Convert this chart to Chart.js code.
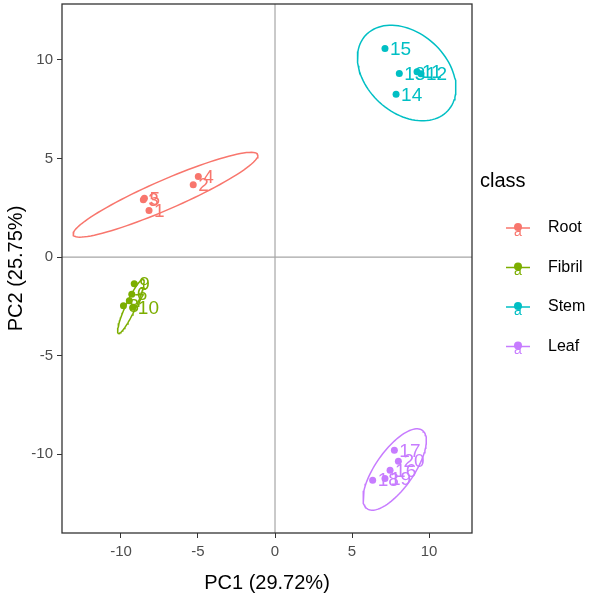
<!DOCTYPE html>
<html>
<head>
<meta charset="utf-8">
<script src="https://cdn.jsdelivr.net/npm/chart.js@4/dist/chart.umd.min.js"></script>
<style>
  body { margin: 0; background: #fff; }
</style>
</head>
<body>
<canvas id="pca" width="590" height="599"></canvas>
<script>
// PCA score plot
var classes = ['Root', 'Fibril', 'Stem', 'Leaf'];
var colors = ['#F8766D', '#7CAE00', '#00BFC4', '#C77CFF'];
var sampleIds = [[1, 2, 3, 4, 5], [6, 7, 8, 9, 10], [11, 12, 13, 14, 15], [16, 17, 18, 19, 20]];
var pc1 = [
	[-8.18, -5.31, -8.55, -4.98, -8.48],
	[-9.30, -9.46, -9.84, -9.14, -9.23],
	[9.22, 9.48, 8.07, 7.86, 7.14],
	[7.47, 7.75, 6.34, 7.14, 8.01]
];
var pc2 = [
	[2.36, 3.67, 2.91, 4.09, 2.98],
	[-1.88, -2.22, -2.47, -1.35, -2.55],
	[9.39, 9.29, 9.31, 8.25, 10.57],
	[-10.81, -9.80, -11.31, -11.23, -10.35]
];
// 95% ellipse per class: centre, major and minor half-axis vectors (PC units)
var ellipseCenter = [[-7.11, 3.16], [-9.36, -2.5], [8.55, 9.33], [7.77, -10.77]];
var ellipseMajor = [[5.99, 2.04], [0.81, 1.37], [2.67, -1.91], [1.79, 1.99]];
var ellipseMinor = [[-0.384, 0.680], [-0.295, 0.106], [1.76, 1.49], [-1.01, 0.55]];
var xTicks = [-10, -5, 0, 5, 10];
var yTicks = [-10, -5, 0, 5, 10];

var FONT = "'Liberation Sans', Arial, sans-serif";
Chart.defaults.font.family = FONT;

function ellipsePath(i) {
	var pts = [];
	for (var k = 0; k <= 100; k++) {
		var t = 2 * Math.PI * k / 100;
		pts.push({
			x: ellipseCenter[i][0] + ellipseMajor[i][0] * Math.cos(t) + ellipseMinor[i][0] * Math.sin(t),
			y: ellipseCenter[i][1] + ellipseMajor[i][1] * Math.cos(t) + ellipseMinor[i][1] * Math.sin(t)
		});
	}
	return pts;
}

var datasets = [];
classes.forEach(function (c, i) {
	datasets.push({
		label: c + ' ellipse',
		data: ellipsePath(i),
		showLine: true,
		pointRadius: 0,
		borderColor: colors[i],
		borderWidth: 1.5,
		fill: false
	});
});
classes.forEach(function (c, i) {
	datasets.push({
		label: c,
		classIndex: i,
		data: pc1[i].map(function (v, j) { return { x: v, y: pc2[i][j] }; }),
		pointRadius: 3.5,
		pointBackgroundColor: colors[i],
		pointBorderWidth: 0,
		borderColor: colors[i]
	});
});

var decor = {
	id: 'decor',
	beforeDatasetsDraw: function (chart) {
		var ctx = chart.ctx, a = chart.chartArea;
		var x0 = chart.scales.x.getPixelForValue(0);
		var y0 = chart.scales.y.getPixelForValue(0);
		ctx.save();
		ctx.strokeStyle = '#a6a6a6';
		ctx.lineWidth = 1.2;
		ctx.beginPath();
		ctx.moveTo(x0, a.top); ctx.lineTo(x0, a.bottom);
		ctx.moveTo(a.left, y0); ctx.lineTo(a.right, y0);
		ctx.stroke();
		ctx.restore();
	},
	afterDatasetsDraw: function (chart) {
		var ctx = chart.ctx, a = chart.chartArea;
		ctx.save();
		// sample labels
		ctx.font = '19px ' + FONT;
		ctx.textAlign = 'left';
		ctx.textBaseline = 'middle';
		chart.data.datasets.forEach(function (ds, d) {
			if (ds.classIndex === undefined) return;
			var meta = chart.getDatasetMeta(d);
			ctx.fillStyle = colors[ds.classIndex];
			meta.data.forEach(function (pt, j) {
				ctx.fillText(String(sampleIds[ds.classIndex][j]), pt.x + 5, pt.y + 1);
			});
		});
		// panel border
		ctx.strokeStyle = '#333';
		ctx.lineWidth = 1.3;
		ctx.strokeRect(a.left, a.top, a.right - a.left, a.bottom - a.top);
		// legend
		ctx.fillStyle = '#000';
		ctx.font = '20px ' + FONT;
		ctx.textBaseline = 'middle';
		ctx.fillText('class', 480, 181);
		classes.forEach(function (c, i) {
			var y = 228 + i * 39.5;
			ctx.strokeStyle = colors[i];
			ctx.lineWidth = 1.5;
			ctx.beginPath();
			ctx.moveTo(506, y); ctx.lineTo(530, y);
			ctx.stroke();
			ctx.fillStyle = colors[i];
			ctx.beginPath();
			ctx.arc(518, y - 1, 4, 0, 2 * Math.PI);
			ctx.fill();
			ctx.font = '14px ' + FONT;
			ctx.textAlign = 'center';
			ctx.fillText('a', 518, y + 4);
			ctx.textAlign = 'left';
			ctx.fillStyle = '#000';
			ctx.font = '16px ' + FONT;
			ctx.fillText(c, 548, y);
		});
		ctx.restore();
	}
};

var ctx = document.getElementById('pca').getContext('2d');
var chart = new Chart(ctx, {
	type: 'scatter',
	data: { datasets: datasets },
	options: {
		responsive: false,
		animation: false,
		layout: { padding: { top: 2, right: 118, left: 0, bottom: 0 } },
		plugins: { legend: { display: false }, tooltip: { enabled: false } },
		scales: {
			x: {
				min: -13.83, max: 12.79,
				afterBuildTicks: function (s) { s.ticks = xTicks.map(function (v) { return { value: v }; }); },
				afterFit: function (s) { s.height = 66; s.paddingLeft = 0; s.paddingRight = 0; },
				grid: { drawOnChartArea: false, tickLength: 5, color: '#333' },
				border: { display: false },
				ticks: { color: '#4d4d4d', font: { size: 15 }, padding: 5 },
				title: { display: true, text: 'PC1 (29.72%)', color: '#000', font: { size: 20 }, padding: { top: 0, bottom: 4 } }
			},
			y: {
				min: -13.99, max: 12.83,
				afterBuildTicks: function (s) { s.ticks = yTicks.map(function (v) { return { value: v }; }); },
				afterFit: function (s) { s.width = 62; s.paddingTop = 0; s.paddingBottom = 0; },
				grid: { drawOnChartArea: false, tickLength: 5, color: '#333' },
				border: { display: false },
				ticks: { color: '#4d4d4d', font: { size: 15 }, padding: 4 },
				title: { display: true, text: 'PC2 (25.75%)', color: '#000', font: { size: 20 }, padding: { top: 4, bottom: 0 } }
			}
		}
	},
	plugins: [decor]
});
</script>
</body>
</html>
